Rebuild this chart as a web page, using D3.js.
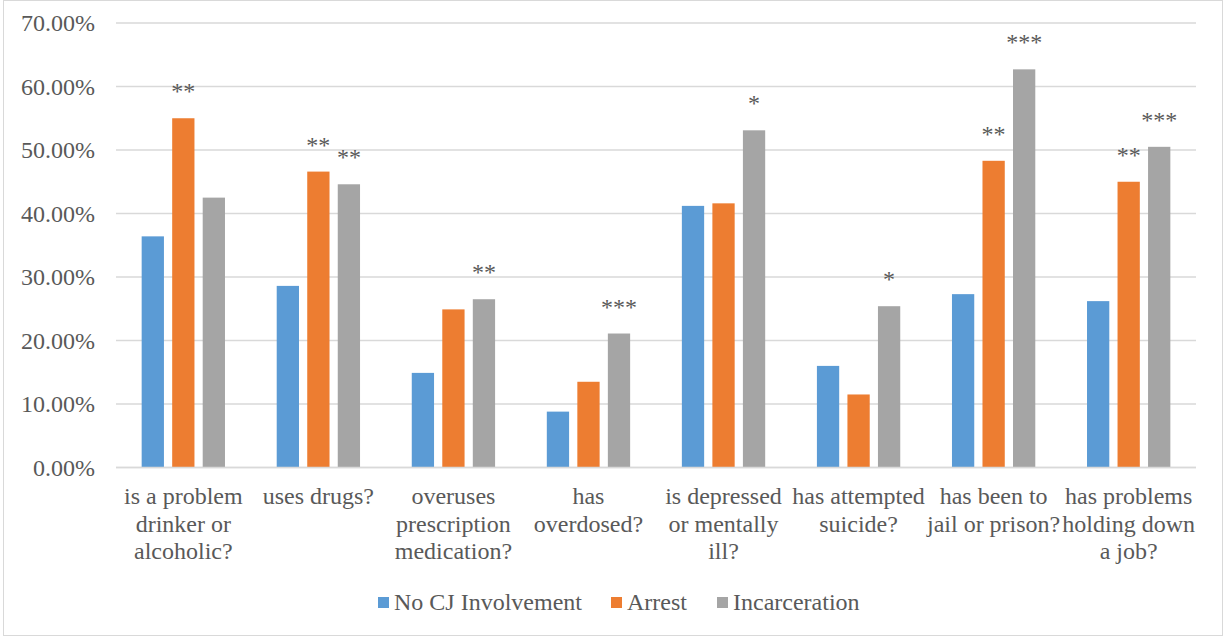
<!DOCTYPE html>
<html>
<head>
<meta charset="utf-8">
<script src="https://cdn.jsdelivr.net/npm/d3@7"></script>
<style>
  body { margin: 0; background: #fff; }
  text { font-family: "Liberation Serif", "Times New Roman", serif; fill: #595959; }
</style>
</head>
<body>
<div id="chart"></div>
<script>
// categories, one entry per line of the wrapped axis label
var categories = [
  ["is a problem", "drinker or", "alcoholic?"],
  ["uses drugs?"],
  ["overuses", "prescription", "medication?"],
  ["has", "overdosed?"],
  ["is depressed", "or mentally", "ill?"],
  ["has attempted", "suicide?"],
  ["has been to", "jail or prison?"],
  ["has problems", "holding down", "a job?"]
];
var seriesNames = ["No CJ Involvement", "Arrest", "Incarceration"];
var noCJ = [0.364, 0.286, 0.149, 0.088, 0.412, 0.160, 0.273, 0.262];
var arrest = [0.550, 0.466, 0.249, 0.135, 0.416, 0.115, 0.483, 0.450];
var incarceration = [0.425, 0.446, 0.265, 0.211, 0.531, 0.254, 0.627, 0.505];
var noCJSig = ["", "", "", "", "", "", "", ""];
var arrestSig = ["**", "**", "", "", "", "", "**", "**"];
var incarcerationSig = ["", "**", "**", "***", "*", "*", "***", "***"];
var yTicks = [0, 0.1, 0.2, 0.3, 0.4, 0.5, 0.6, 0.7];

var colors = ["#5B9BD5", "#ED7D31", "#A5A5A5"];
var values = [noCJ, arrest, incarceration];
var sigs = [noCJSig, arrestSig, incarcerationSig];

var width = 1225, height = 637;
var plotLeft = 116, plotRight = 1196, plotTop = 23, plotBottom = 467.5;

var svg = d3.select("#chart").append("svg")
  .attr("width", width)
  .attr("height", height);

// chart border
svg.append("rect")
  .attr("x", 3.5).attr("y", 0.5)
  .attr("width", width - 6).attr("height", height - 2)
  .attr("fill", "#fff")
  .attr("stroke", "#d9d9d9")
  .attr("stroke-width", 1);

var y = d3.scaleLinear().domain([0, 0.7]).range([plotBottom, plotTop]);
var x0 = d3.scaleBand().domain(d3.range(categories.length)).range([plotLeft, plotRight]).paddingInner(0.383).paddingOuter(0.19);
var x1 = d3.scaleBand().domain(d3.range(seriesNames.length)).range([0, x0.bandwidth()]).paddingInner(0.27);

// gridlines
svg.append("g").selectAll("line")
  .data(yTicks)
  .enter().append("line")
  .attr("x1", plotLeft).attr("x2", plotRight)
  .attr("y1", function(d) { return y(d); })
  .attr("y2", function(d) { return y(d); })
  .attr("stroke", "#d9d9d9")
  .attr("stroke-width", 1.5);

// y tick labels
svg.append("g").selectAll("text")
  .data(yTicks)
  .enter().append("text")
  .attr("x", 95)
  .attr("y", function(d) { return y(d) + 8; })
  .attr("text-anchor", "end")
  .style("font-size", "24px")
  .text(function(d) { return d3.format(".2%")(d); });

// bars
var groups = svg.append("g").selectAll("g")
  .data(categories)
  .enter().append("g")
  .attr("transform", function(d, i) { return "translate(" + x0(i) + ",0)"; });

groups.selectAll("rect")
  .data(function(d, i) { return values.map(function(v, s) { return { s: s, v: v[i] }; }); })
  .enter().append("rect")
  .attr("x", function(d) { return x1(d.s); })
  .attr("y", function(d) { return y(d.v); })
  .attr("width", x1.bandwidth())
  .attr("height", function(d) { return plotBottom - y(d.v); })
  .attr("fill", function(d) { return colors[d.s]; });

// significance stars
groups.selectAll("text.sig")
  .data(function(d, i) { return values.map(function(v, s) { return { s: s, v: v[i], t: sigs[s][i] }; }); })
  .enter().append("text")
  .attr("class", "sig")
  .attr("x", function(d) { return x1(d.s) + x1.bandwidth() / 2; })
  .attr("y", function(d) { return y(d.v) - 19; })
  .attr("text-anchor", "middle")
  .style("font-size", "24px")
  .text(function(d) { return d.t; });

// redraw baseline over bars
svg.append("line")
  .attr("x1", plotLeft).attr("x2", plotRight)
  .attr("y1", plotBottom).attr("y2", plotBottom)
  .attr("stroke", "#d9d9d9")
  .attr("stroke-width", 1.5);

// category labels
var catLabels = svg.append("g").selectAll("text")
  .data(categories)
  .enter().append("text")
  .attr("text-anchor", "middle")
  .attr("x", function(d, i) { return x0(i) + x0.bandwidth() / 2; })
  .attr("y", 504)
  .style("font-size", "24px");

catLabels.selectAll("tspan")
  .data(function(d) { return d; })
  .enter().append("tspan")
  .attr("x", function() { return d3.select(this.parentNode).attr("x"); })
  .attr("dy", function(d, i) { return i === 0 ? 0 : 27.5; })
  .text(function(d) { return d; });

// legend
var legendX = [378, 611, 717];
var legend = svg.append("g").selectAll("g")
  .data(seriesNames)
  .enter().append("g")
  .attr("transform", function(d, i) { return "translate(" + legendX[i] + ",597)"; });

legend.append("rect")
  .attr("width", 11).attr("height", 11)
  .attr("fill", function(d, i) { return colors[i]; });

legend.append("text")
  .attr("x", 16).attr("y", 13)
  .style("font-size", "24px")
  .text(function(d) { return d; });
</script>
</body>
</html>
